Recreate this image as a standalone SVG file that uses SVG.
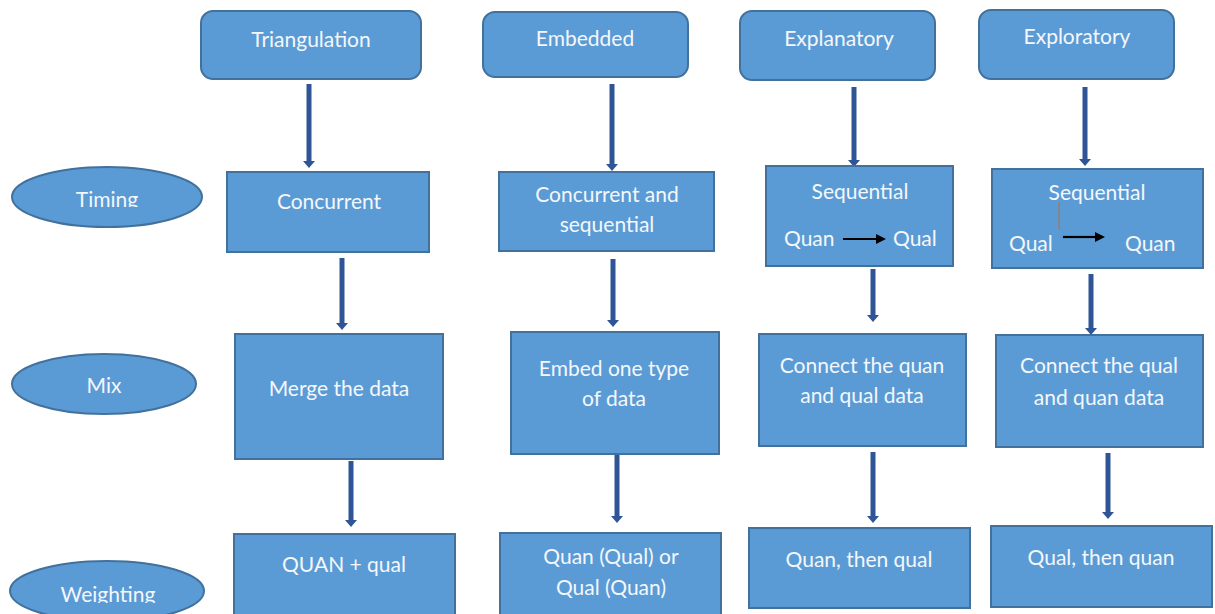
<svg xmlns="http://www.w3.org/2000/svg" width="1215" height="614" viewBox="0 0 1215 614">
<style>
.box{fill:#5b9bd5;stroke:#41719c;stroke-width:2}
.t{font-family:Lato,"Liberation Sans",sans-serif;font-size:21px;fill:#f4f7fb;text-anchor:middle}
.t2{font-family:Lato,"Liberation Sans",sans-serif;font-size:21px;fill:#f4f7fb}
.conn{stroke:#2f5597;stroke-width:5;fill:none}
.small{stroke:#000;stroke-width:2.2;fill:none}
</style>
<defs>
<marker id="ah" markerUnits="userSpaceOnUse" markerWidth="8" markerHeight="14" viewBox="0 -7 8 14" refX="0" refY="0" orient="auto">
<path d="M0,-6 L7,0 L0,6 Z" fill="#2f5597"/>
</marker>
<marker id="bh" markerUnits="userSpaceOnUse" markerWidth="12" markerHeight="12" viewBox="0 -6 12 12" refX="0" refY="0" orient="auto">
<path d="M0,-5 L10,0 L0,5 Z" fill="#000"/>
</marker>
<clipPath id="clipTiming"><rect x="0" y="150" width="220" height="57"/></clipPath>
<clipPath id="clipWeight"><rect x="0" y="550" width="220" height="53"/></clipPath>
</defs>

<g id="connectors">
<line class="conn" x1="309" y1="84" x2="309" y2="161" marker-end="url(#ah)"/>
<line class="conn" x1="342" y1="258" x2="342" y2="323" marker-end="url(#ah)"/>
<line class="conn" x1="351" y1="461" x2="351" y2="520" marker-end="url(#ah)"/>
<line class="conn" x1="612" y1="84" x2="612" y2="164" marker-end="url(#ah)"/>
<line class="conn" x1="613" y1="259" x2="613" y2="320" marker-end="url(#ah)"/>
<line class="conn" x1="617" y1="455" x2="617" y2="516" marker-end="url(#ah)"/>
<line class="conn" x1="854" y1="87" x2="854" y2="160" marker-end="url(#ah)"/>
<line class="conn" x1="873" y1="269" x2="873" y2="315" marker-end="url(#ah)"/>
<line class="conn" x1="873" y1="452" x2="873" y2="516" marker-end="url(#ah)"/>
<line class="conn" x1="1085" y1="87" x2="1085" y2="159" marker-end="url(#ah)"/>
<line class="conn" x1="1091" y1="274" x2="1091" y2="328" marker-end="url(#ah)"/>
<line class="conn" x1="1108" y1="453" x2="1108" y2="512" marker-end="url(#ah)"/>
</g>

<g id="triangulation"><rect class="box" x="201" y="11" width="220" height="68" rx="12"/><text class="t" x="311" y="47">Triangulation</text></g>
<g id="embedded"><rect class="box" x="483" y="12" width="205" height="65" rx="12"/><text class="t" x="585" y="46">Embedded</text></g>
<g id="explanatory"><rect class="box" x="740" y="11" width="195" height="69" rx="12"/><text class="t" x="839" y="46">Explanatory</text></g>
<g id="exploratory"><rect class="box" x="979" y="10" width="195" height="69" rx="12"/><text class="t" x="1077" y="44">Exploratory</text></g>

<g id="timing"><ellipse class="box" cx="107" cy="197" rx="95" ry="30"/><text class="t" x="107" y="207" clip-path="url(#clipTiming)">Timing</text></g>
<g id="mix"><ellipse class="box" cx="104" cy="384" rx="92" ry="30"/><text class="t" x="104" y="393">Mix</text></g>
<g id="weighting"><ellipse class="box" cx="107" cy="591" rx="97" ry="30"/><text class="t" x="108" y="602" clip-path="url(#clipWeight)">Weighting</text></g>

<g id="concurrent"><rect class="box" x="227" y="172" width="202" height="80"/><text class="t" x="329" y="209">Concurrent</text></g>
<g id="concurrent-seq"><rect class="box" x="499" y="172" width="215" height="79"/><text class="t" x="607" y="202">Concurrent and</text><text class="t" x="607" y="232">sequential</text></g>
<g id="seq-quan-qual"><rect class="box" x="766" y="166" width="187" height="100"/><text class="t" x="860" y="199">Sequential</text><text class="t2" x="784" y="246">Quan</text><line class="small" x1="843" y1="239" x2="876" y2="239" marker-end="url(#bh)"/><text class="t2" x="893" y="246">Qual</text></g>
<g id="seq-qual-quan"><rect class="box" x="992" y="169" width="211" height="99"/><text class="t" x="1097" y="200">Sequential</text><line x1="1059" y1="202" x2="1059" y2="230" stroke="#a07a5c" stroke-width="1.2"/><text class="t2" x="1009" y="251">Qual</text><line class="small" x1="1063" y1="237" x2="1095" y2="237" marker-end="url(#bh)"/><text class="t2" x="1125" y="251">Quan</text></g>

<g id="merge"><rect class="box" x="235" y="334" width="208" height="125"/><text class="t" x="339" y="396">Merge the data</text></g>
<g id="embed"><rect class="box" x="511" y="332" width="208" height="122"/><text class="t" x="614" y="376">Embed one type</text><text class="t" x="614" y="406">of data</text></g>
<g id="connect-quan"><rect class="box" x="759" y="334" width="207" height="112"/><text class="t" x="862" y="373">Connect the quan</text><text class="t" x="862" y="403">and qual data</text></g>
<g id="connect-qual"><rect class="box" x="996" y="335" width="207" height="112"/><text class="t" x="1099" y="373">Connect the qual</text><text class="t" x="1099" y="405">and quan data</text></g>

<g id="quan-plus-qual"><rect class="box" x="234" y="534" width="221" height="90"/><text class="t" x="344" y="572">QUAN + qual</text></g>
<g id="quan-qual-or"><rect class="box" x="500" y="533" width="221" height="90"/><text class="t" x="611" y="564">Quan (Qual) or</text><text class="t" x="611" y="595">Qual (Quan)</text></g>
<g id="quan-then-qual"><rect class="box" x="749" y="528" width="221" height="80"/><text class="t" x="859" y="567">Quan, then qual</text></g>
<g id="qual-then-quan"><rect class="box" x="991" y="526" width="221" height="81"/><text class="t" x="1101" y="565">Qual, then quan</text></g>
</svg>
